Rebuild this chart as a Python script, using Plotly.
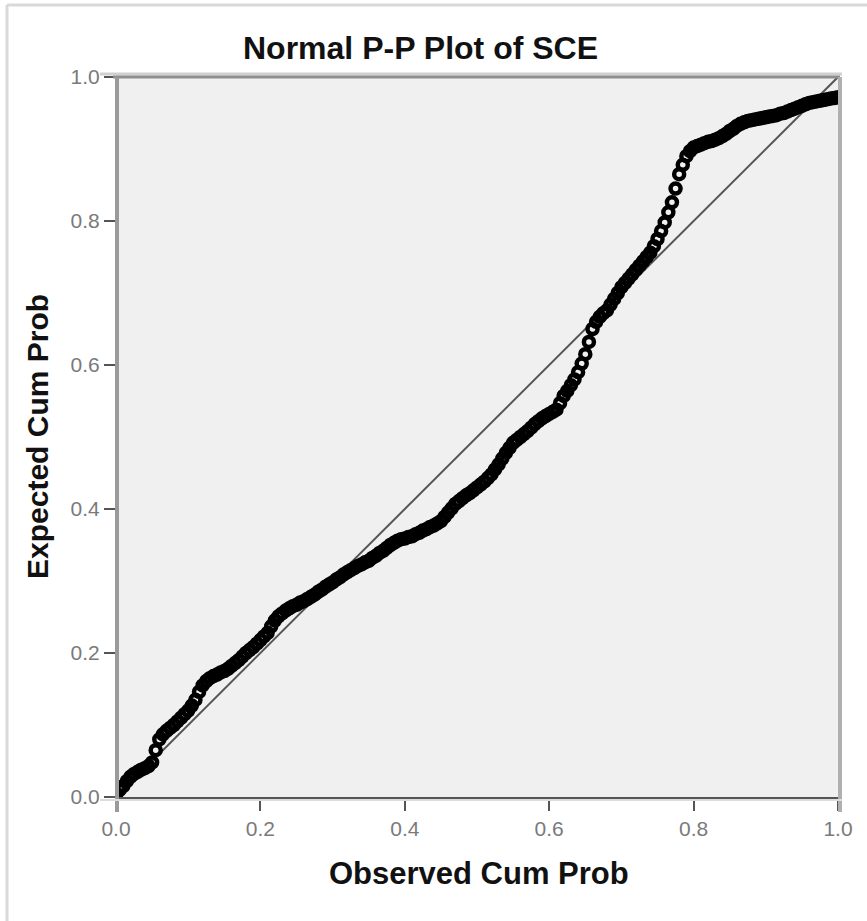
import plotly.graph_objects as go

# Observed cumulative probability (x) and expected cumulative probability (y)
observed_cum_prob = [
    0.000, 0.005, 0.010, 0.015, 0.020, 0.025, 0.030, 0.035, 0.040, 0.045,
    0.050, 0.055, 0.060, 0.065, 0.070, 0.075, 0.080, 0.085, 0.090, 0.095,
    0.100, 0.105, 0.110, 0.115, 0.120, 0.125, 0.130, 0.135, 0.140, 0.145,
    0.150, 0.155, 0.160, 0.165, 0.170, 0.175, 0.180, 0.185, 0.190, 0.195,
    0.200, 0.205, 0.210, 0.215, 0.220, 0.225, 0.230, 0.235, 0.240, 0.245,
    0.250, 0.255, 0.260, 0.265, 0.270, 0.275, 0.280, 0.285, 0.290, 0.295,
    0.300, 0.305, 0.310, 0.315, 0.320, 0.325, 0.330, 0.335, 0.340, 0.345,
    0.350, 0.355, 0.360, 0.365, 0.370, 0.375, 0.380, 0.385, 0.390, 0.395,
    0.400, 0.405, 0.410, 0.415, 0.420, 0.425, 0.430, 0.435, 0.440, 0.445,
    0.450, 0.455, 0.460, 0.465, 0.470, 0.475, 0.480, 0.485, 0.490, 0.495,
    0.500, 0.505, 0.510, 0.515, 0.520, 0.525, 0.530, 0.535, 0.540, 0.545,
    0.550, 0.555, 0.560, 0.565, 0.570, 0.575, 0.580, 0.585, 0.590, 0.595,
    0.600, 0.605, 0.610, 0.615, 0.620, 0.625, 0.630, 0.635, 0.640, 0.645,
    0.650, 0.655, 0.660, 0.665, 0.670, 0.675, 0.680, 0.685, 0.690, 0.695,
    0.700, 0.705, 0.710, 0.715, 0.720, 0.725, 0.730, 0.735, 0.740, 0.745,
    0.750, 0.755, 0.760, 0.765, 0.770, 0.775, 0.780, 0.785, 0.790, 0.795,
    0.800, 0.805, 0.810, 0.815, 0.820, 0.825, 0.830, 0.835, 0.840, 0.845,
    0.850, 0.855, 0.860, 0.865, 0.870, 0.875, 0.880, 0.885, 0.890, 0.895,
    0.900, 0.905, 0.910, 0.915, 0.920, 0.925, 0.930, 0.935, 0.940, 0.945,
    0.950, 0.955, 0.960, 0.965, 0.970, 0.975, 0.980, 0.985, 0.990, 0.995,
    1.000,
]
expected_cum_prob = [
    0.003, 0.010, 0.015, 0.022, 0.028, 0.032, 0.035, 0.038, 0.040, 0.043,
    0.048, 0.065, 0.080, 0.087, 0.092, 0.096, 0.100, 0.105, 0.110, 0.115,
    0.120, 0.127, 0.135, 0.146, 0.155, 0.161, 0.165, 0.168, 0.170, 0.173,
    0.175, 0.178, 0.182, 0.186, 0.190, 0.195, 0.200, 0.204, 0.208, 0.213,
    0.218, 0.223, 0.228, 0.237, 0.245, 0.251, 0.255, 0.259, 0.262, 0.265,
    0.267, 0.270, 0.272, 0.275, 0.278, 0.281, 0.285, 0.288, 0.292, 0.295,
    0.298, 0.302, 0.305, 0.309, 0.312, 0.315, 0.318, 0.321, 0.323, 0.326,
    0.328, 0.332, 0.335, 0.339, 0.342, 0.346, 0.350, 0.353, 0.356, 0.358,
    0.359, 0.361, 0.362, 0.365, 0.367, 0.370, 0.372, 0.375, 0.377, 0.380,
    0.383, 0.389, 0.395, 0.401, 0.407, 0.411, 0.415, 0.419, 0.422, 0.426,
    0.430, 0.434, 0.438, 0.443, 0.448, 0.455, 0.462, 0.470, 0.478, 0.485,
    0.492, 0.496, 0.500, 0.504, 0.508, 0.513, 0.518, 0.522, 0.526, 0.529,
    0.532, 0.535, 0.538, 0.547, 0.557, 0.564, 0.572, 0.580, 0.590, 0.602,
    0.615, 0.632, 0.650, 0.660, 0.667, 0.672, 0.676, 0.684, 0.692, 0.700,
    0.708, 0.714, 0.720, 0.726, 0.732, 0.738, 0.744, 0.750, 0.756, 0.765,
    0.775, 0.786, 0.798, 0.812, 0.826, 0.845, 0.865, 0.878, 0.890, 0.897,
    0.902, 0.904, 0.906, 0.908, 0.910, 0.911, 0.913, 0.915, 0.918, 0.921,
    0.925, 0.928, 0.932, 0.935, 0.937, 0.939, 0.940, 0.941, 0.942, 0.943,
    0.944, 0.945, 0.946, 0.947, 0.949, 0.950, 0.952, 0.954, 0.956, 0.958,
    0.960, 0.962, 0.964, 0.965, 0.966, 0.967, 0.968, 0.969, 0.970, 0.971,
    0.972,
]
ref_line_x = [0.0, 1.0]
ref_line_y = [0.0, 1.0]
tick_values = [0.0, 0.2, 0.4, 0.6, 0.8, 1.0]
tick_labels = ["0.0", "0.2", "0.4", "0.6", "0.8", "1.0"]

FONT = "Liberation Sans, Arial, sans-serif"

fig = go.Figure()
fig.add_trace(go.Scatter(
    x=ref_line_x, y=ref_line_y, mode="lines",
    line=dict(color="#555555", width=2), hoverinfo="skip", showlegend=False,
))
fig.add_trace(go.Scatter(
    x=observed_cum_prob, y=expected_cum_prob, mode="markers",
    marker=dict(symbol="circle-open", size=10, color="#000000",
                line=dict(width=4.5, color="#000000")),
    showlegend=False,
))

W, H = 867, 921
L, R, T, B = 116, 29, 77, 124
pw, ph = W - L - R, H - T - B

def px(x):
    return (x - L) / pw

def py(y):
    return 1 - (y - T) / ph

axis_common = dict(
    range=[0, 1], tickvals=tick_values, ticktext=tick_labels,
    showgrid=False, zeroline=False, ticks="outside", ticklen=11,
    tickwidth=2, tickcolor="#555555",
    tickfont=dict(family=FONT, size=21, color="#7a7a7a"),
    fixedrange=True,
)

fig.update_layout(
    width=W, height=H,
    margin=dict(l=L, r=R, t=T, b=B),
    paper_bgcolor="#ffffff", plot_bgcolor="#f0f0f0",
    xaxis=dict(**axis_common, showline=True, linecolor="#555555", linewidth=3),
    yaxis=dict(**axis_common, showline=False),
    shapes=[
        # outer frame (left and top)
        dict(type="line", xref="paper", yref="paper", x0=px(7), x1=px(7), y0=py(921), y1=py(5),
             line=dict(color="#d9d9d9", width=3)),
        dict(type="line", xref="paper", yref="paper", x0=px(7), x1=px(867), y0=py(5), y1=py(5),
             line=dict(color="#d9d9d9", width=3)),
        # plot frame: top, left, right
        dict(type="line", xref="paper", yref="paper", x0=px(100), x1=px(842), y0=py(74), y1=py(74),
             line=dict(color="#d0d0d0", width=3)),
        dict(type="line", xref="paper", yref="paper", x0=px(113), x1=px(840), y0=py(77), y1=py(77),
             line=dict(color="#8e8e8e", width=3)),
        dict(type="line", xref="paper", yref="paper", x0=px(117), x1=px(117), y0=py(812), y1=py(77),
             line=dict(color="#9a9a9a", width=4)),
        dict(type="line", xref="paper", yref="paper", x0=px(840), x1=px(840), y0=py(812), y1=py(77),
             line=dict(color="#b0b0b0", width=4)),
        dict(type="line", xref="paper", yref="paper", x0=px(100), x1=px(842), y0=py(800), y1=py(800),
             line=dict(color="#dcdcdc", width=2)),
    ],
    annotations=[
        dict(text="<b>Normal P-P Plot of SCE</b>", xref="paper", yref="paper",
             x=px(420), y=py(48), xanchor="center", yanchor="middle", showarrow=False,
             font=dict(family=FONT, size=32, color="#111111")),
        dict(text="<b>Observed Cum Prob</b>", xref="paper", yref="paper",
             x=px(479), y=py(873), xanchor="center", yanchor="middle", showarrow=False,
             font=dict(family=FONT, size=31, color="#111111")),
        dict(text="<b>Expected Cum Prob</b>", xref="paper", yref="paper",
             x=px(37), y=py(437), xanchor="center", yanchor="middle", showarrow=False,
             textangle=-90,
             font=dict(family=FONT, size=30, color="#111111")),
    ],
)

fig.write_html("out.html")
